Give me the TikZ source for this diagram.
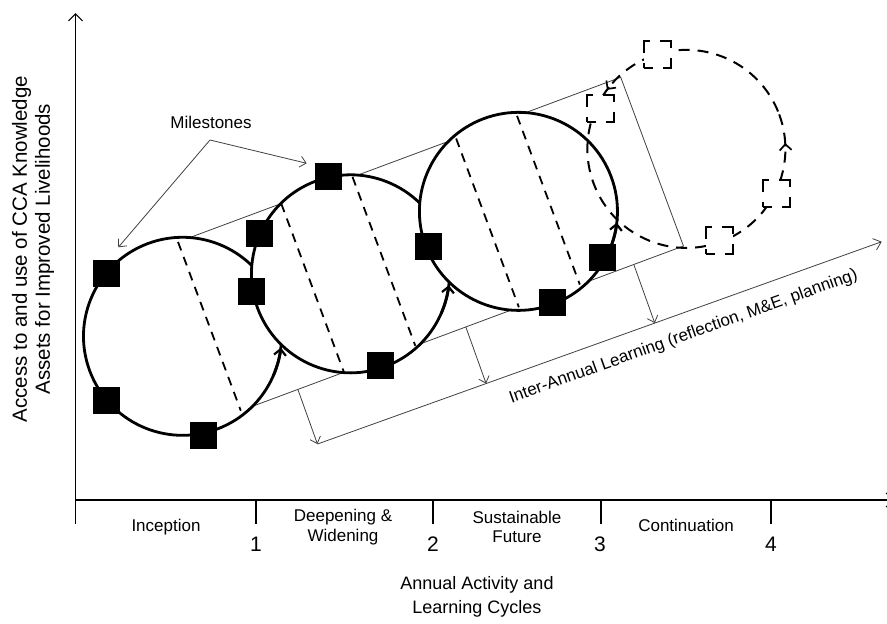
\documentclass[tikz,border=0pt]{standalone}
\usepackage{fontspec}
\setmainfont{Liberation Sans}
\usetikzlibrary{arrows.meta,calc}
\begin{document}
\begin{tikzpicture}[x=1pt,y=-1pt,
  cyc/.style={line width=2.8pt, fill=white},
  chord/.style={line width=1.8pt, dash pattern=on 9pt off 7pt},
  thinline/.style={line width=0.8pt, draw=black!75},
  thinarrow/.style={thinline, -{Straight Barb[length=6pt,width=11pt]}},
  ms/.style={fill=black, minimum size=27pt, inner sep=0pt, draw=none},
  msd/.style={draw=black, fill=white, line width=2pt, dash pattern=on 18pt off 10pt, dash phase=9pt, minimum size=27pt, inner sep=0pt},
  flow/.style={line width=2.8pt, -{Straight Barb[length=6pt,width=12pt,line width=2.2pt]}},
  dflow/.style={line width=2pt, -{Straight Barb[length=6pt,width=12pt,line width=1.7pt]}},
  axis/.style={line width=1.9pt},
  lbl/.style={font=\fontsize{17}{19.5}\selectfont, align=center},
  num/.style={font=\fontsize{21}{24}\selectfont},
]
\useasboundingbox (0,0) rectangle (887,624);

% axes
\coordinate (O) at (75.5,500);
\coordinate (Ytop) at (75.5,13);
\coordinate (Xend) at (894,500);
\draw[axis, -{Straight Barb[length=7pt,width=14pt,line width=1.2pt]}] (O) -- (Ytop);
\draw[axis, -{Straight Barb[length=7pt,width=14pt,line width=1.2pt]}] (O) -- (Xend);
\foreach \tx in {75.5,256,433,601,771} \draw[axis] (\tx,500) -- (\tx,524);

% band frame
\begin{scope}[shift={(182.5,336.3)}, x={(0.9373pt,0.3486pt)}, y={(0.3486pt,-0.9373pt)}]
  \coordinate (c1) at (0,0);
  \coordinate (c2) at (179.2,0);
  \coordinate (c3) at (358.4,0);
  \coordinate (c4) at (537.6,0);
  \coordinate (bTL) at (0,-90);
  \coordinate (bTR) at (501,-90);
  \coordinate (bBR) at (501,90);
  \coordinate (bBL) at (0,90);
  \coordinate (p1) at (89.6,90);
  \coordinate (p2) at (268.8,90);
  \coordinate (p3) at (448,90);
  \draw[thinline] (bTL) -- (bTR) -- (bBR) -- (bBL);
  \draw[cyc] (c1) circle[radius=99];
  \draw[cyc] (c2) circle[radius=99];
  \draw[cyc] (c3) circle[radius=99];
  \foreach \s in {28.7,138.8,214.9,325.4,390.4}
    \draw[chord] (\s,-90) -- (\s,90);
  \draw[flow] (c1) ++(44:99) arc[start angle=44, end angle=27, radius=99];
  \draw[flow] (c2) ++(44:99) arc[start angle=44, end angle=27, radius=99];
  \draw[flow] (c3) ++(44:99) arc[start angle=44, end angle=27, radius=99];
  \draw[line width=2pt, dash pattern=on 11pt off 8pt] (c4) circle[radius=99];
  \draw[dflow] (c4) ++(19:99) arc[start angle=19, end angle=17, radius=99];
  \draw[dflow] (c4) ++(-121:99) arc[start angle=-121, end angle=-123, radius=99];
\end{scope}

% milestones
\node[ms] (m1) at (106,273) {};
\node[ms] (m2) at (106,400) {};
\node[ms] (m3) at (203.3,435) {};
\node[ms] (m4) at (328.3,176) {};
\node[ms] (m5) at (259.3,233.3) {};
\node[ms] (m6) at (251.7,291.7) {};
\node[ms] (m7) at (380,365.5) {};
\node[ms] (m8) at (428.3,246.7) {};
\node[ms] (m9) at (552.7,302.7) {};
\node[ms] (m10) at (602.7,257.3) {};
\node[msd] (d1) at (657,54.5) {};
\node[msd] (d2) at (600.5,108) {};
\node[msd] (d3) at (776.7,193) {};
\node[msd] (d4) at (719.7,240.5) {};

\node[lbl, anchor=base] (mil) at (211,128) {Milestones};
\coordinate (mv) at (210,140);
\coordinate (mt1) at (118.3,247.3);
\coordinate (mt2) at (306.7,163.3);
\draw[thinarrow] (mv) -- (mt1);
\draw[thinarrow] (mv) -- (mt2);

% inter-annual learning
\coordinate (LA) at (310,446.7);
\coordinate (LB) at (881.7,241.7);
\coordinate (q1) at ($(LA)!(p1)!(LB)$);
\coordinate (q2) at ($(LA)!(p2)!(LB)$);
\coordinate (q3) at ($(LA)!(p3)!(LB)$);
\draw[thinline, -{Straight Barb[length=7pt,width=12pt]}] (q1) -- (LB);
\draw[thinarrow] (p1) -- (q1);
\draw[thinarrow] (p2) -- (q2);
\draw[thinarrow] (p3) -- (q3);
\node[lbl, rotate=19.7, anchor=base] (ial) at (685,341) {Inter-Annual Learning (reflection, M\&E, planning)};

% axis labels
\node[lbl] (inc) at (166,527) {Inception};
\node[lbl] (dw) at (343,527) {Deepening \&\\Widening};
\node[lbl] (sf) at (517,527) {Sustainable\\Future};
\node[lbl] (con) at (686,525) {Continuation};
\node[num] (n1) at (256,544) {1};
\node[num] (n2) at (433,544) {2};
\node[num] (n3) at (600,544) {3};
\node[num] (n4) at (771,544) {4};
\node[lbl, font=\fontsize{18}{24}\selectfont] (xl) at (477,597) {Annual Activity and\\Learning Cycles};
\node[rotate=90, align=center, font=\fontsize{20.5}{23}\selectfont] (yl) at (33,249) {Access to and use of CCA Knowledge\\Assets for Improved Livelihoods};
\end{tikzpicture}
\end{document}
